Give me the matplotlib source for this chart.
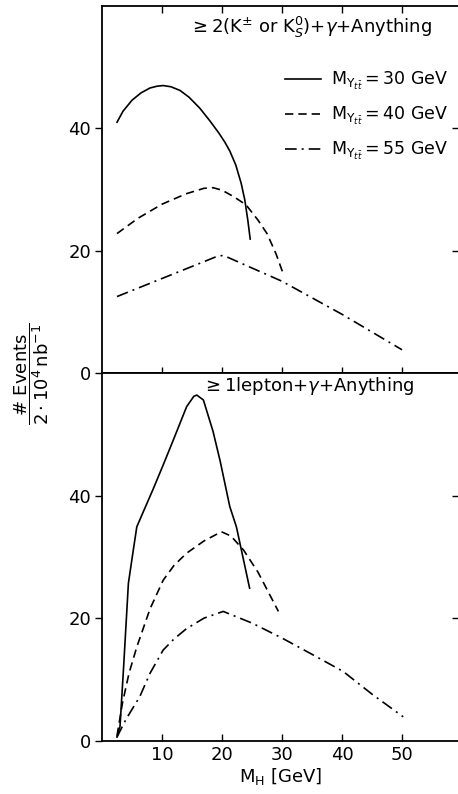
import matplotlib
matplotlib.use("Agg")
import matplotlib.pyplot as plt

plt.rcParams['font.family'] = ['DejaVu Sans']
plt.rcParams['mathtext.fontset'] = 'dejavusans'

# top panel: >=2(K or Ks)+gamma+Anything
top30_x = [2.5, 3.5, 5, 6.5, 8, 9.2, 10.2, 11.5, 13, 14.5, 16.3, 18, 19.5, 20.5, 21.3, 22.3, 23.2, 23.8, 24.3, 24.7]
top30_y = [41, 42.8, 44.6, 45.8, 46.6, 46.9, 47, 46.8, 46.2, 45.1, 43.3, 41.2, 39.2, 37.7, 36.3, 34, 31, 28.3, 25, 21.9]
top40_x = [2.5, 6, 10, 14, 17, 18.5, 20, 22, 24, 26, 27.5, 29, 30.1]
top40_y = [22.8, 25.3, 27.6, 29.3, 30.2, 30.3, 29.9, 28.8, 27.5, 25, 22.8, 19.5, 16.5]
top55_x = [2.5, 19, 20, 21, 30, 40, 50]
top55_y = [12.5, 19, 19.2, 18.9, 15, 9.6, 3.8]

# bottom panel: >=1 lepton+gamma+Anything
bot30_x = [2.5, 3, 3.6, 4.4, 5.2, 5.8, 6.9, 8.5, 10.2, 11.9, 14.1, 15.3, 15.8, 16.9, 18.5, 19.7, 21.3, 22.4, 24.6]
bot30_y = [0.6, 2.3, 12, 25.7, 31, 34.9, 37.4, 41, 45, 49.1, 54.5, 56.2, 56.4, 55.6, 50.5, 45.6, 38.2, 34.9, 24.9]
bot40_x = [2.5, 3.4, 4.5, 5.8, 8, 10.2, 12, 14.1, 17, 19.9, 21.5, 23.6, 26, 29.4]
bot40_y = [0.8, 6.1, 11, 15.3, 21.5, 26.2, 28.6, 30.6, 32.6, 34.1, 33.4, 31.1, 27.5, 21.1]
bot55_x = [2.5, 4, 6.3, 8, 10.2, 12, 14.1, 17, 20.2, 25, 30.1, 35, 40.2, 45, 50.2]
bot55_y = [0.6, 3.5, 7.2, 11, 14.8, 16.6, 18.3, 20, 21.1, 19.2, 16.7, 14.1, 11.3, 7.6, 3.9]

labels = [r"$\mathrm{M}_{\Upsilon_{t\bar{t}}}$$=$30 GeV",
          r"$\mathrm{M}_{\Upsilon_{t\bar{t}}}$$=$40 GeV",
          r"$\mathrm{M}_{\Upsilon_{t\bar{t}}}$$=$55 GeV"]

styles = ['-', (0, (5, 3)), (0, (7, 3, 1.2, 3))]
lw = 1.2

fig = plt.figure(figsize=(4.58, 7.94), dpi=100)
ax1 = fig.add_axes([0.2227, 0.5302, 0.7795, 0.4622])
ax2 = fig.add_axes([0.2227, 0.0671, 0.7795, 0.4631], sharex=ax1)

ax1.plot(top30_x, top30_y, color='black', lw=lw, ls=styles[0], label=labels[0])
ax1.plot(top40_x, top40_y, color='black', lw=lw, ls=styles[1], label=labels[1])
ax1.plot(top55_x, top55_y, color='black', lw=lw, ls=styles[2], label=labels[2])

ax2.plot(bot30_x, bot30_y, color='black', lw=lw, ls=styles[0])
ax2.plot(bot40_x, bot40_y, color='black', lw=lw, ls=styles[1])
ax2.plot(bot55_x, bot55_y, color='black', lw=lw, ls=styles[2])

for ax in (ax1, ax2):
    ax.set_xlim(0, 59.5)
    ax.set_ylim(0, 60)
    ax.set_yticks([0, 20, 40])
    ax.set_xticks([10, 20, 30, 40, 50])
    ax.spines['right'].set_visible(False)
    ax.spines['left'].set_linewidth(1.3)
    ax.spines['top'].set_linewidth(1.3)
    ax.spines['bottom'].set_linewidth(1.3)
    ax.tick_params(axis='y', left=True, right=True, direction='out', length=5, width=1, labelsize=13, pad=3)

# right side ticks pointing inwards
for ax in (ax1, ax2):
    for t in ax.yaxis.get_major_ticks():
        t.tick2line.set_marker(matplotlib.lines.TICKLEFT)
        t.tick2line.set_markersize(5)
    ax.yaxis.get_major_ticks()[0].tick2line.set_visible(False)

ax1.tick_params(axis='x', top=True, bottom=True, direction='inout', length=8, width=1, labelbottom=False)
for t in ax1.xaxis.get_major_ticks():
    t.tick2line.set_marker(matplotlib.lines.TICKDOWN)
    t.tick2line.set_markersize(5)
ax2.tick_params(axis='x', top=False, bottom=True, direction='in', length=5, width=1, labelsize=13)

ax1.legend(loc='upper right', bbox_to_anchor=(1.0, 0.855), frameon=False, fontsize=12.5,
           handlelength=2.1, handletextpad=0.6, labelspacing=0.75, borderaxespad=0.2)

ax1.text(0.585, 0.975, r"$\geq$2(K$^{\pm}$ or K$^0_S$)+$\gamma$+Anything", transform=ax1.transAxes,
         fontsize=13, ha='center', va='top')
ax2.text(0.28, 0.995, r"$\geq$1lepton+$\gamma$+Anything", transform=ax2.transAxes,
         fontsize=13, ha='left', va='top')

ax2.set_xlabel(r"M$_\mathrm{H}$ [GeV]", fontsize=13, labelpad=2)
fig.text(0.07, 0.53, r"$\dfrac{\#\ \mathrm{Events}}{2\cdot10^4\,\mathrm{nb}^{-1}}$",
         rotation=90, ha='center', va='center', fontsize=13)

fig.savefig("out.png", dpi=100)
